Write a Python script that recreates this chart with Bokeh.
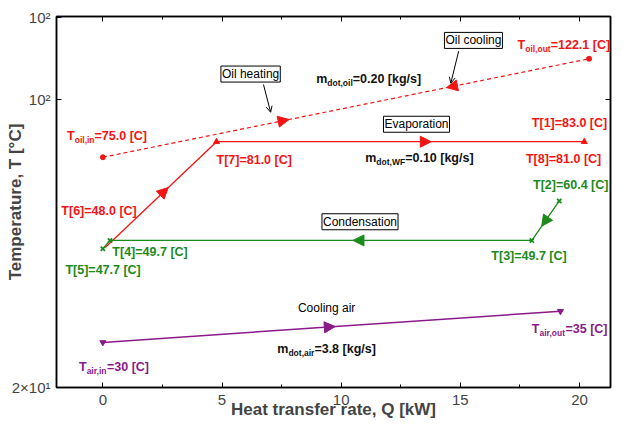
import math
from bokeh.plotting import figure
from bokeh.models import (ColumnDataSource, Label, Arrow, NormalHead, OpenHead,
                          LinearAxis, LogAxis, FixedTicker, Range1d)
from bokeh.core.properties import value
from bokeh.embed import file_html
from bokeh.resources import INLINE

# ---------------- data ----------------
Q_oil = [0.0, 20.4]                 # oil in -> oil out
T_oil = [75.0, 122.1]
Q_evap = [0.1, 4.77, 20.2]          # T[6], T[7], T[8]
T_evap = [48.0, 81.0, 81.0]
Q_cond = [19.15, 18.0, 0.3, 0.0]    # T[2], T[3], T[4], T[5]
T_cond = [60.4, 49.7, 49.7, 47.7]
Q_air = [0.0, 19.2]                 # air in -> air out
T_air = [30.0, 35.0]

x_ticks = [0, 5, 10, 15, 20]
x_minor = [2.5, 7.5, 12.5, 17.5]
y_ticks = [24, 100, 150]
y_tick_labels = ["2×10¹", "10²", "10²"]

RED, GREEN, PURPLE, BLACK = "#f41414", "#1c8a1c", "#8a1a8a", "#111111"

# rich labels: parts (text, is_subscript)
lab_parts = [
    [("T", 0), ("oil,in", 1), ("=75.0 [C]", 0)],
    [("T", 0), ("oil,out", 1), ("=122.1 [C]", 0)],
    [("m", 0), ("dot,oil", 1), ("=0.20 [kg/s]", 0)],
    [("T[1]=83.0 [C]", 0)],
    [("T[8]=81.0 [C]", 0)],
    [("m", 0), ("dot,WF", 1), ("=0.10 [kg/s]", 0)],
    [("T[7]=81.0 [C]", 0)],
    [("T[6]=48.0 [C]", 0)],
    [("T[4]=49.7 [C]", 0)],
    [("T[5]=47.7 [C]", 0)],
    [("T[3]=49.7 [C]", 0)],
    [("T[2]=60.4 [C]", 0)],
    [("m", 0), ("dot,air", 1), ("=3.8 [kg/s]", 0)],
    [("T", 0), ("air,in", 1), ("=30 [C]", 0)],
    [("T", 0), ("air,out", 1), ("=35 [C]", 0)],
]
lab_Q = [-1.50, 17.4, 8.95, 18.0, 17.75, 11.01, 4.77, -1.74, 0.40, -1.57, 16.3, 18.05, 7.32, -1.0, 18.0]
lab_T = [83.2, 131.0, 110.6, 88.9, 74.4, 74.6, 74.0, 57.4, 46.9, 42.95, 46.1, 65.5, 29.1, 26.5, 32.1]
lab_color = [RED, RED, BLACK, RED, RED, BLACK, RED, RED, GREEN, GREEN, GREEN, GREEN, BLACK, PURPLE, PURPLE]

box_text = ["Oil heating", "Oil cooling", "Evaporation", "Condensation"]
box_Q = [6.20, 15.55, 13.16, 10.79]
box_T = [113.2, 133.7, 88.3, 54.5]

# pointer arrows (from box to line): (Q0, T0, Q1, T1)
ptr = [(6.74, 107.5, 7.04, 93.7), (14.93, 126.8, 14.60, 108.2)]

# ---------------- figure ----------------
FONT = "Liberation Sans"
p = figure(width=612, height=422, x_range=Range1d(-1.944, 21.3), y_range=Range1d(24, 150.5),
           y_axis_type="log", output_backend="svg", toolbar_location=None,
           min_border_left=56, min_border_right=2, min_border_top=16, min_border_bottom=35)
p.xgrid.visible = False
p.ygrid.visible = False
p.outline_line_color = "black"
p.outline_line_width = 1.5
p.background_fill_color = "white"

xa = p.xaxis[0]
xa.ticker = FixedTicker(ticks=x_ticks, minor_ticks=x_minor)
xa.axis_label = "Heat transfer rate, Q [kW]"
xa.axis_label_text_font = FONT
xa.axis_label_text_font_style = "bold"
xa.axis_label_text_font_size = "17px"
xa.axis_label_standoff = -8
xa.major_label_text_font = FONT
xa.major_label_text_font_size = "15px"
xa.major_label_standoff = 7
xa.major_tick_in, xa.major_tick_out = 5, 0
xa.minor_tick_in, xa.minor_tick_out = 3, 0
xa.axis_line_width = 1.5

ya = p.yaxis[0]
ya.ticker = FixedTicker(ticks=y_ticks, minor_ticks=[])
ya.major_label_overrides = {t: s for t, s in zip(y_ticks, y_tick_labels)}
ya.major_label_text_font = FONT
ya.major_label_text_font_size = "15px"
ya.major_label_standoff = 6
ya.major_tick_in, ya.major_tick_out = 5, 0
ya.minor_tick_line_color = None
ya.axis_line_width = 1.5
ya.axis_label = "Temperature, T [°C]"
ya.axis_label_text_font = FONT
ya.axis_label_text_font_style = "bold"
ya.axis_label_text_font_size = "17px"
ya.axis_label_standoff = -16

top = LinearAxis(ticker=FixedTicker(ticks=x_ticks, minor_ticks=x_minor),
                 major_label_overrides={t: "" for t in x_ticks},
                 major_label_text_font_size="1px", major_label_standoff=0,
                 major_tick_in=5, major_tick_out=0, minor_tick_in=3, minor_tick_out=0,
                 axis_line_width=1.5)
p.add_layout(top, "above")
right = LogAxis(ticker=FixedTicker(ticks=[100], minor_ticks=[]),
                major_label_overrides={100: ""},
                major_label_text_font_size="1px", major_label_standoff=0,
                major_tick_in=5, major_tick_out=0, minor_tick_line_color=None,
                axis_line_width=1.5)
p.add_layout(right, "right")

# ---------------- lines and markers ----------------
p.line(Q_oil, T_oil, line_color=RED, line_width=1.2, line_dash="4 3")
p.scatter(Q_oil, T_oil, marker="circle", size=5, color=RED)

p.line(Q_evap, T_evap, line_color=RED, line_width=1.3)
p.scatter(Q_evap[1:], T_evap[1:], marker="triangle", size=6, color=RED)

p.line(Q_cond, T_cond, line_color=GREEN, line_width=1.3)
p.scatter(Q_cond, T_cond, marker="x", size=6, line_color=GREEN, line_width=1.8)

p.line(Q_air, T_air, line_color=PURPLE, line_width=1.5)
p.scatter(Q_air, T_air, marker="inverted_triangle", size=6, color=PURPLE)


def along(Qs, Ts, i, j, f):
    q = Qs[i] + f * (Qs[j] - Qs[i])
    t = math.exp(math.log(Ts[i]) + f * (math.log(Ts[j]) - math.log(Ts[i])))
    return q, t


flow = [
    (Q_oil, T_oil, 0, 1, 0.383, RED),
    (Q_oil, T_oil, 1, 0, 0.293, RED),
    (Q_evap, T_evap, 0, 1, 0.566, RED),
    (Q_evap, T_evap, 1, 2, 0.584, RED),
    (Q_cond, T_cond, 0, 1, 0.64, GREEN),
    (Q_cond, T_cond, 1, 2, 0.424, GREEN),
    (Q_air, T_air, 0, 1, 0.508, PURPLE),
]
for Qs, Ts, i, j, f, c in flow:
    xs, ys = along(Qs, Ts, i, j, f - 0.05)
    xe, ye = along(Qs, Ts, i, j, f)
    p.add_layout(Arrow(end=NormalHead(size=11, fill_color=c, line_color=c),
                       x_start=xs, y_start=ys, x_end=xe, y_end=ye, line_alpha=0))

for q0, t0, q1, t1 in ptr:
    p.add_layout(Arrow(end=OpenHead(size=6, line_width=1, line_color="black"),
                       x_start=q0, y_start=t0, x_end=q1, y_end=t1,
                       line_color="black", line_width=1))

for txt, q, t in zip(box_text, box_Q, box_T):
    p.add_layout(Label(x=q, y=t, text=txt, text_align="center", text_baseline="middle",
                       text_font=FONT, text_font_size="12px", text_color="black",
                       border_line_color="black", border_line_width=1,
                       background_fill_color="white", padding=1))

p.text(x=[9.39], y=[35.6], text=["Cooling air"], text_font=value(FONT),
       text_font_size="12px", text_color="black", text_align="center", text_baseline="middle")

# ---------------- rich (subscripted) labels ----------------
WID = {' ': 278, ',': 278, '.': 278, '/': 278, '=': 584, '[': 333, ']': 333, 'C': 722,
       'F': 611, 'T': 611, 'W': 944, 'a': 556, 'd': 611, 'g': 611, 'i': 278, 'k': 556,
       'l': 278, 'm': 889, 'n': 611, 'o': 611, 'r': 389, 's': 556, 't': 333, 'u': 611}


def text_w(s, fs):
    return sum(WID.get(ch, 556) for ch in s) / 1000.0 * fs


MAIN, SUB = 12.5, 8.5
cols = dict(x=[], y=[], text=[], xo=[], yo=[], fs=[], color=[])
for parts, q, t, c in zip(lab_parts, lab_Q, lab_T, lab_color):
    off = 0.0
    for s, sub in parts:
        fs = SUB if sub else MAIN
        cols["x"].append(q)
        cols["y"].append(t)
        cols["text"].append(s)
        cols["xo"].append(off)
        cols["yo"].append(4 if sub else 0)
        cols["fs"].append(f"{fs}px")
        cols["color"].append(c)
        off += text_w(s, fs)
src = ColumnDataSource(cols)
p.text(x="x", y="y", text="text", x_offset="xo", y_offset="yo", text_font_size="fs",
       text_color="color", text_font=value(FONT), text_font_style="bold",
       text_align="left", text_baseline="middle", source=src)

open("out.html", "w").write(file_html(p, INLINE))
